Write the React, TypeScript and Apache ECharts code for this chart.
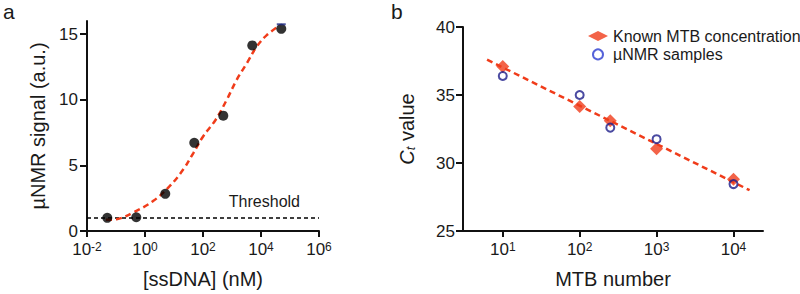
import React, { useEffect, useRef } from "react";
import * as echarts from "echarts";

// ---- Panel a data ----
const ssdnaConc = [0.05, 0.5, 5, 50, 500, 5000, 50000];
const nmrSignal = [1.0, 1.05, 2.83, 6.72, 8.79, 14.14, 15.4];
const fitConc = [0.045, 0.105, 0.4, 1.95, 7.2, 21, 47, 102, 270, 660, 1450, 3240, 7080, 15800, 45200];
const fitSignal = [0.85, 0.9, 1.42, 2.3, 3.43, 4.7, 5.96, 7.22, 8.46, 10.0, 11.52, 12.78, 14.04, 14.92, 15.68];
const thresholdLevel = 1.0;
const errorCapConc = [50000];
const errorCapSignal = [15.75];
const leftXExtent = [0.01, 1e6];
const leftYTicks = [0, 5, 10, 15];

// ---- Panel b data ----
const mtbNumber = [10, 100, 250, 1000, 10000];
const knownCt = [37.1, 34.15, 33.1, 31.05, 28.8];
const nmrCt = [36.4, 35.0, 32.6, 31.75, 28.45];
const ctFitNumber = [6.25, 16200];
const ctFitValue = [37.6, 28.0];
const rightXExtent = [3.04, 24200];
const rightXTickExponents = [1, 2, 3, 4];

const lg = (v: number) => Math.log10(v);
const FONT = "'Liberation Sans', Arial, Helvetica, sans-serif";
const TXT = "#1a1a1a";
const RED = "#f03c1a";

const supRich = {
  b: { fontSize: 17, fontFamily: FONT, color: TXT },
  s: { fontSize: 12, fontFamily: FONT, color: TXT, verticalAlign: "top" },
};
const supFormatter = (v: number) => `{b|10}{s|${Math.round(v)}}`;

const axisLine = { show: true, onZero: false, lineStyle: { color: "#111", width: 2 } };
const tickStyle = { color: "#111", width: 2 };

export default function App() {
  const ref = useRef<HTMLDivElement>(null);
  useEffect(() => {
    if (!ref.current) return;
    const chart = echarts.init(ref.current, null, { renderer: "svg" });
    const option: any = {
      animation: false,
      backgroundColor: "#fff",
      textStyle: { fontFamily: FONT, color: TXT },
      grid: [
        { left: 87, top: 21, width: 232, height: 211 },
        { left: 463, top: 27, width: 300, height: 205 },
      ],
      legend: {
        orient: "vertical",
        left: 583,
        top: 23,
        itemWidth: 20,
        itemHeight: 10,
        itemGap: 2.4,
        textStyle: { fontSize: 16, color: TXT, fontFamily: FONT, lineHeight: 16 },
        data: [
          { name: "Known MTB concentration", icon: "diamond", itemStyle: { color: RED } },
          {
            name: "µNMR samples",
            icon: "circle",
            itemStyle: { color: "rgba(255,255,255,0)", borderColor: "#2a3bd0", borderWidth: 2 },
          },
        ],
      },
      xAxis: [
        {
          type: "value",
          gridIndex: 0,
          min: lg(leftXExtent[0]),
          max: lg(leftXExtent[1]),
          interval: 2,
          axisLine,
          axisTick: { show: true, length: 6, lineStyle: tickStyle },
          splitLine: { show: false },
          axisLabel: { margin: 10, formatter: supFormatter, rich: supRich },
          name: "[ssDNA] (nM)",
          nameLocation: "middle",
          nameGap: 38,
          nameTextStyle: { fontSize: 20, color: TXT, fontFamily: FONT },
        },
        {
          type: "value",
          gridIndex: 1,
          min: lg(rightXExtent[0]),
          max: lg(rightXExtent[1]),
          axisLine,
          axisTick: { show: true, length: 6, lineStyle: tickStyle, customValues: rightXTickExponents },
          splitLine: { show: false },
          axisLabel: {
            margin: 10,
            formatter: supFormatter,
            rich: supRich,
            customValues: rightXTickExponents,
          },
          name: "MTB number",
          nameLocation: "middle",
          nameGap: 38,
          nameTextStyle: { fontSize: 20, color: TXT, fontFamily: FONT },
        },
      ],
      yAxis: [
        {
          type: "value",
          gridIndex: 0,
          min: 0,
          max: 16,
          axisLine,
          axisTick: { show: true, length: 7, lineStyle: tickStyle, customValues: leftYTicks },
          splitLine: { show: false },
          axisLabel: { fontSize: 17, color: TXT, margin: 9, fontFamily: FONT, customValues: leftYTicks },
          name: "µNMR signal (a.u.)",
          nameLocation: "middle",
          nameGap: 39,
          nameTextStyle: { fontSize: 20, color: TXT, fontFamily: FONT },
        },
        {
          type: "value",
          gridIndex: 1,
          min: 25,
          max: 40,
          interval: 5,
          axisLine,
          axisTick: { show: true, length: 7, lineStyle: tickStyle },
          splitLine: { show: false },
          axisLabel: { fontSize: 17, color: TXT, margin: 8, fontFamily: FONT },
          name: "{i|C}{t|t}{n| value}",
          nameLocation: "middle",
          nameGap: 46,
          nameTextStyle: {
            fontSize: 20,
            color: TXT,
            fontFamily: FONT,
            rich: {
              i: { fontSize: 20, fontStyle: "italic", color: TXT, fontFamily: FONT },
              t: { fontSize: 13, fontStyle: "italic", color: TXT, fontFamily: FONT, verticalAlign: "bottom" },
              n: { fontSize: 20, color: TXT, fontFamily: FONT },
            },
          },
        },
      ],
      series: [
        {
          type: "line",
          xAxisIndex: 0,
          yAxisIndex: 0,
          data: fitConc.map((c, i) => [lg(c), fitSignal[i]]),
          smooth: 0.4,
          showSymbol: false,
          lineStyle: { color: RED, width: 2.5, type: [6, 4] },
          z: 3,
          silent: true,
        },
        {
          type: "scatter",
          xAxisIndex: 0,
          yAxisIndex: 0,
          data: ssdnaConc.map((c, i) => [lg(c), nmrSignal[i]]),
          symbol: "circle",
          symbolSize: 10,
          itemStyle: { color: "#000" },
          z: 4,
          markLine: {
            silent: true,
            symbol: "none",
            data: [{ yAxis: thresholdLevel }],
            lineStyle: { color: "#000", width: 1.5, type: [4, 3] },
            label: {
              show: true,
              position: "insideEndTop",
              formatter: "Threshold",
              fontSize: 16,
              color: TXT,
              fontFamily: FONT,
              distance: [19, 8],
            },
            z: 2,
          },
        },
        {
          type: "scatter",
          xAxisIndex: 0,
          yAxisIndex: 0,
          data: errorCapConc.map((c, i) => [lg(c), errorCapSignal[i]]),
          symbol: "rect",
          symbolSize: [9, 2],
          itemStyle: { color: "#1f2a86" },
          z: 5,
        },
        {
          type: "line",
          xAxisIndex: 1,
          yAxisIndex: 1,
          data: ctFitNumber.map((c, i) => [lg(c), ctFitValue[i]]),
          showSymbol: false,
          lineStyle: { color: RED, width: 2.5, type: [6, 4] },
          z: 3,
          silent: true,
        },
        {
          name: "Known MTB concentration",
          type: "scatter",
          xAxisIndex: 1,
          yAxisIndex: 1,
          data: mtbNumber.map((c, i) => [lg(c), knownCt[i]]),
          symbol: "diamond",
          symbolSize: 13,
          itemStyle: { color: RED },
          z: 2,
        },
        {
          name: "µNMR samples",
          type: "scatter",
          xAxisIndex: 1,
          yAxisIndex: 1,
          data: mtbNumber.map((c, i) => [lg(c), nmrCt[i]]),
          symbol: "circle",
          symbolSize: 8,
          itemStyle: { color: "rgba(255,255,255,0)", borderColor: "#1d1d8a", borderWidth: 2 },
          z: 4,
        },
      ],
      graphic: [
        { type: "text", left: 3, top: 1, style: { text: "a", fontSize: 21, fill: TXT, fontFamily: FONT } },
        { type: "text", left: 391, top: 1, style: { text: "b", fontSize: 21, fill: TXT, fontFamily: FONT } },
      ],
    };
    chart.setOption(option);
    return () => chart.dispose();
  }, []);
  return (
    <div
      ref={ref}
      style={{ position: "absolute", left: 0, top: 0, width: 800, height: 294 }}
    />
  );
}
